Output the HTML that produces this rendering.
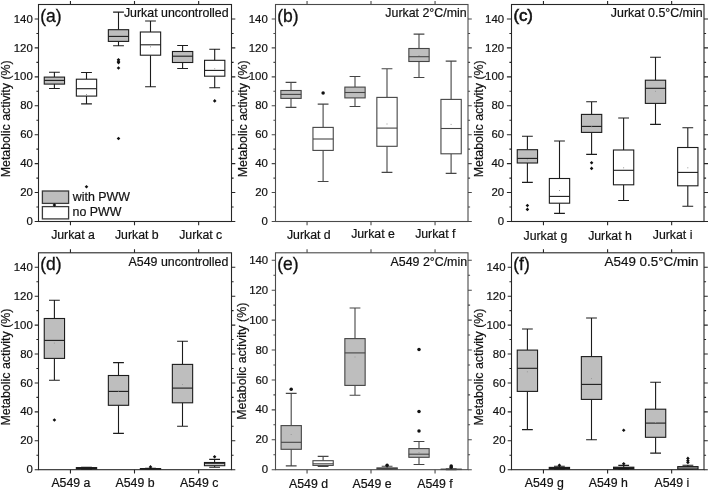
<!DOCTYPE html>
<html><head><meta charset="utf-8"><title>Metabolic activity box plots</title>
<style>html,body{margin:0;padding:0;background:#fff;}body{width:708px;height:491px;overflow:hidden;}svg{display:block;font-family:"Liberation Sans",sans-serif;will-change:transform;}.t{font-size:12.4px;fill:#111;stroke:#111;stroke-width:0.2px;}.x{font-size:12.3px;}.k{font-size:11.4px;fill:#111;stroke:#111;stroke-width:0.2px;}.pl{font-size:17.5px;fill:#111;stroke:#111;stroke-width:0.3px;}</style></head><body>
<svg width="708" height="491" viewBox="0 0 708 491">
<rect width="708" height="491" fill="#fff"/>
<g stroke="#3a3a3a" stroke-width="1.3">
<rect x="42.4" y="191" width="26.2" height="12.4" fill="#bebebe"/>
<rect x="42.4" y="206.6" width="26.2" height="12.3" fill="#fff"/>
</g>
<g stroke-width="1.1" fill="none">
<g stroke="#1c1c1c">
<path d="M54.4 72.3V77.1M54.4 84.1V88.5M49 72.3H59.8M49 88.5H59.8"/>
<rect x="44.25" y="77.1" width="20.3" height="7" fill="#bebebe"/>
<path d="M44.25 80.4H64.55"/></g>
<g stroke="#1c1c1c">
<path d="M86.5 72.5V79.2M86.5 96.1V103.9M81.1 72.5H91.9M81.1 103.9H91.9"/>
<rect x="76.35" y="79.2" width="20.3" height="16.9" fill="#ffffff"/>
<path d="M76.35 88.7H96.65"/></g>
<g stroke="#1c1c1c">
<path d="M118.5 12.1V29.7M118.5 41.4V45.7M113.1 12.1H123.9M113.1 45.7H123.9"/>
<rect x="108.35" y="29.7" width="20.3" height="11.7" fill="#bebebe"/>
<path d="M108.35 36.4H128.65"/></g>
<g stroke="#1c1c1c">
<path d="M150.5 21V32M150.5 55.2V86.7M145.1 21H155.9M145.1 86.7H155.9"/>
<rect x="140.35" y="32" width="20.3" height="23.2" fill="#ffffff"/>
<path d="M140.35 44.8H160.65"/></g>
<g stroke="#1c1c1c">
<path d="M182.6 45.5V51.5M182.6 62.5V68.5M177.2 45.5H188M177.2 68.5H188"/>
<rect x="172.45" y="51.5" width="20.3" height="11" fill="#bebebe"/>
<path d="M172.45 56.2H192.75"/></g>
<g stroke="#1c1c1c">
<path d="M214.7 49.2V60.3M214.7 76.2V87.8M209.3 49.2H220.1M209.3 87.8H220.1"/>
<rect x="204.55" y="60.3" width="20.3" height="15.9" fill="#ffffff"/>
<path d="M204.55 70.4H224.85"/></g>
<g stroke="#454545">
<path d="M291 82.4V90.5M291 98.4V107.4M285.6 82.4H296.4M285.6 107.4H296.4"/>
<rect x="280.85" y="90.5" width="20.3" height="7.9" fill="#bebebe"/>
<path d="M280.85 94.4H301.15"/></g>
<g stroke="#454545">
<path d="M323.1 104.1V127.4M323.1 150.4V181.5M317.7 104.1H328.5M317.7 181.5H328.5"/>
<rect x="312.95" y="127.4" width="20.3" height="23" fill="#ffffff"/>
<path d="M312.95 139H333.25"/></g>
<g stroke="#454545">
<path d="M355 76.5V87.1M355 97.9V106.5M349.6 76.5H360.4M349.6 106.5H360.4"/>
<rect x="344.85" y="87.1" width="20.3" height="10.8" fill="#bebebe"/>
<path d="M344.85 92.5H365.15"/></g>
<g stroke="#454545">
<path d="M387 68.8V97.4M387 146.3V172.4M381.6 68.8H392.4M381.6 172.4H392.4"/>
<rect x="376.85" y="97.4" width="20.3" height="48.9" fill="#ffffff"/>
<path d="M376.85 128.1H397.15"/></g>
<g stroke="#454545">
<path d="M419 34.1V48.5M419 61.5V77.5M413.6 34.1H424.4M413.6 77.5H424.4"/>
<rect x="408.85" y="48.5" width="20.3" height="13" fill="#bebebe"/>
<path d="M408.85 56.7H429.15"/></g>
<g stroke="#454545">
<path d="M451.1 61.1V99.4M451.1 153.8V173.4M445.7 61.1H456.5M445.7 173.4H456.5"/>
<rect x="440.95" y="99.4" width="20.3" height="54.4" fill="#ffffff"/>
<path d="M440.95 128.5H461.25"/></g>
<g stroke="#1c1c1c">
<path d="M527.4 136.3V149.7M527.4 163V182.4M522 136.3H532.8M522 182.4H532.8"/>
<rect x="517.25" y="149.7" width="20.3" height="13.3" fill="#bebebe"/>
<path d="M517.25 158.4H537.55"/></g>
<g stroke="#1c1c1c">
<path d="M559.5 141V178.5M559.5 203.2V213.4M554.1 141H564.9M554.1 213.4H564.9"/>
<rect x="549.35" y="178.5" width="20.3" height="24.7" fill="#ffffff"/>
<path d="M549.35 196.4H569.65"/></g>
<g stroke="#1c1c1c">
<path d="M591.6 101.8V114.4M591.6 132.4V154.4M586.2 101.8H597M586.2 154.4H597"/>
<rect x="581.45" y="114.4" width="20.3" height="18" fill="#bebebe"/>
<path d="M581.45 126.4H601.75"/></g>
<g stroke="#1c1c1c">
<path d="M623.6 118V150M623.6 184.8V200.5M618.2 118H629M618.2 200.5H629"/>
<rect x="613.45" y="150" width="20.3" height="34.8" fill="#ffffff"/>
<path d="M613.45 170.3H633.75"/></g>
<g stroke="#1c1c1c">
<path d="M655.5 57.2V80.2M655.5 103.4V124.4M650.1 57.2H660.9M650.1 124.4H660.9"/>
<rect x="645.35" y="80.2" width="20.3" height="23.2" fill="#bebebe"/>
<path d="M645.35 88.3H665.65"/></g>
<g stroke="#1c1c1c">
<path d="M687.8 127.7V147.5M687.8 185.8V206.2M682.4 127.7H693.2M682.4 206.2H693.2"/>
<rect x="677.65" y="147.5" width="20.3" height="38.3" fill="#ffffff"/>
<path d="M677.65 172.4H697.95"/></g>
<g stroke="#1c1c1c">
<path d="M54.4 300.3V318.5M54.4 358.4V380.2M49 300.3H59.8M49 380.2H59.8"/>
<rect x="44.25" y="318.5" width="20.3" height="39.9" fill="#bebebe"/>
<path d="M44.25 340.4H64.55"/></g>
<g stroke="#1c1c1c">
<path d="M86.5 467.2V467.6M86.5 469V469.4M81.1 467.2H91.9M81.1 469.4H91.9"/>
<rect x="76.35" y="467.6" width="20.3" height="1.4" fill="#1c1c1c"/>
<path d="M76.35 468.3H96.65"/></g>
<g stroke="#1c1c1c">
<path d="M118.5 362.6V375.5M118.5 405.3V433.4M113.1 362.6H123.9M113.1 433.4H123.9"/>
<rect x="108.35" y="375.5" width="20.3" height="29.8" fill="#bebebe"/>
<path d="M108.35 391.4H128.65"/></g>
<g stroke="#1c1c1c">
<path d="M150.5 468.3V468.6M150.5 469.3V469.5M145.1 468.3H155.9M145.1 469.5H155.9"/>
<rect x="140.35" y="468.6" width="20.3" height="0.7" fill="#1c1c1c"/>
<path d="M140.35 469H160.65"/></g>
<g stroke="#1c1c1c">
<path d="M182.5 341.3V364.4M182.5 402.8V426.2M177.1 341.3H187.9M177.1 426.2H187.9"/>
<rect x="172.35" y="364.4" width="20.3" height="38.4" fill="#bebebe"/>
<path d="M172.35 388.1H192.65"/></g>
<g stroke="#1c1c1c">
<path d="M214.6 459.4V462.5M214.6 465.7V467.3M209.2 459.4H220M209.2 467.3H220"/>
<rect x="204.45" y="462.5" width="20.3" height="3.2" fill="#ffffff"/>
<path d="M204.45 463.7H224.75"/></g>
<g stroke="#454545">
<path d="M291.2 393.4V425.6M291.2 449.3V465.9M285.8 393.4H296.6M285.8 465.9H296.6"/>
<rect x="281.05" y="425.6" width="20.3" height="23.7" fill="#bebebe"/>
<path d="M281.05 442.3H301.35"/></g>
<g stroke="#454545">
<path d="M323.1 456.4V460.7M323.1 465.4V466.5M317.7 456.4H328.5M317.7 466.5H328.5"/>
<rect x="312.95" y="460.7" width="20.3" height="4.7" fill="#ffffff"/>
<path d="M312.95 463.8H333.25"/></g>
<g stroke="#454545">
<path d="M355 308V338.6M355 385.4V395.3M349.6 308H360.4M349.6 395.3H360.4"/>
<rect x="344.85" y="338.6" width="20.3" height="46.8" fill="#bebebe"/>
<path d="M344.85 352.9H365.15"/></g>
<g stroke="#454545">
<path d="M387.1 466.3V467.9M387.1 469.2V469.5M381.7 466.3H392.5M381.7 469.5H392.5"/>
<rect x="376.95" y="467.9" width="20.3" height="1.3" fill="#454545"/>
<path d="M376.95 468.6H397.25"/></g>
<g stroke="#454545">
<path d="M419 441.5V448.6M419 457.3V464.5M413.6 441.5H424.4M413.6 464.5H424.4"/>
<rect x="408.85" y="448.6" width="20.3" height="8.7" fill="#bebebe"/>
<path d="M408.85 454.2H429.15"/></g>
<g stroke="#454545">
<path d="M451.2 468.7V469.2M451.2 469.5V469.6M445.8 468.7H456.6M445.8 469.6H456.6"/>
<rect x="441.05" y="469.2" width="20.3" height="0.3" fill="#454545"/>
<path d="M441.05 469.4H461.35"/></g>
<g stroke="#1c1c1c">
<path d="M527.4 329V350.1M527.4 391.4V429.6M522 329H532.8M522 429.6H532.8"/>
<rect x="517.25" y="350.1" width="20.3" height="41.3" fill="#bebebe"/>
<path d="M517.25 368.3H537.55"/></g>
<g stroke="#1c1c1c">
<path d="M559.4 466.2V467.4M559.4 469.1V469.5M554 466.2H564.8M554 469.5H564.8"/>
<rect x="549.25" y="467.4" width="20.3" height="1.7" fill="#1c1c1c"/>
<path d="M549.25 468.2H569.55"/></g>
<g stroke="#1c1c1c">
<path d="M591.5 318V356.6M591.5 399.4V439.7M586.1 318H596.9M586.1 439.7H596.9"/>
<rect x="581.35" y="356.6" width="20.3" height="42.8" fill="#bebebe"/>
<path d="M581.35 384.4H601.65"/></g>
<g stroke="#1c1c1c">
<path d="M623.7 465.4V467.2M623.7 469.1V469.5M618.3 465.4H629.1M618.3 469.5H629.1"/>
<rect x="613.55" y="467.2" width="20.3" height="1.9" fill="#1c1c1c"/>
<path d="M613.55 468.2H633.85"/></g>
<g stroke="#1c1c1c">
<path d="M655.6 382.3V409.2M655.6 437.3V453.1M650.2 382.3H661M650.2 453.1H661"/>
<rect x="645.45" y="409.2" width="20.3" height="28.1" fill="#bebebe"/>
<path d="M645.45 423.1H665.75"/></g>
<g stroke="#1c1c1c">
<path d="M687.9 465.2V466.6M687.9 469.2V469.5M682.5 465.2H693.3M682.5 469.5H693.3"/>
<rect x="677.75" y="466.6" width="20.3" height="2.6" fill="#ffffff"/>
<path d="M677.75 468H698.05"/></g>
</g>
<g fill="#9a9a9a">
<rect x="86" y="94" width="1" height="1"/>
<rect x="150" y="46.3" width="1" height="1"/>
<rect x="214.2" y="68.3" width="1" height="1"/>
<rect x="386.5" y="123.5" width="1" height="1"/>
<rect x="418.5" y="55" width="1" height="1"/>
<rect x="450.6" y="123.9" width="1" height="1"/>
<rect x="526.9" y="159.3" width="1" height="1"/>
<rect x="559" y="190" width="1" height="1"/>
<rect x="591.1" y="126.4" width="1" height="1"/>
<rect x="623.1" y="167.3" width="1" height="1"/>
<rect x="655" y="90.8" width="1" height="1"/>
<rect x="687.3" y="167.3" width="1" height="1"/>
<rect x="53.9" y="342.6" width="1" height="1"/>
<rect x="118" y="390.5" width="1" height="1"/>
<rect x="182" y="384" width="1" height="1"/>
<rect x="290.7" y="434" width="1" height="1"/>
<rect x="354.5" y="356.5" width="1" height="1"/>
<rect x="418.5" y="452" width="1" height="1"/>
<rect x="526.9" y="371.3" width="1" height="1"/>
<rect x="591" y="378.1" width="1" height="1"/>
<rect x="655.1" y="422" width="1" height="1"/>
</g>
<g fill="#111">
<path d="M54.4 203.3L56.2 205.1L54.4 206.9L52.6 205.1Z"/>
<path d="M86.5 184.9L88.3 186.7L86.5 188.5L84.7 186.7Z"/>
<path d="M118.5 57.9L120.3 59.7L118.5 61.5L116.7 59.7Z"/>
<path d="M118.5 59.4L120.3 61.2L118.5 63L116.7 61.2Z"/>
<path d="M118.5 60.8L120.3 62.6L118.5 64.4L116.7 62.6Z"/>
<path d="M118.5 66.2L120.3 68L118.5 69.8L116.7 68Z"/>
<path d="M118.5 136.7L120.3 138.5L118.5 140.3L116.7 138.5Z"/>
<path d="M214.7 99.1L216.5 100.9L214.7 102.7L212.9 100.9Z"/>
<circle cx="323.1" cy="93.1" r="1.75"/>
<path d="M527.4 203.7L529.2 205.5L527.4 207.3L525.6 205.5Z"/>
<path d="M527.4 207.6L529.2 209.4L527.4 211.2L525.6 209.4Z"/>
<path d="M591.6 161L593.4 162.8L591.6 164.6L589.8 162.8Z"/>
<path d="M591.6 166.6L593.4 168.4L591.6 170.2L589.8 168.4Z"/>
<path d="M54.4 418.2L56.2 420L54.4 421.8L52.6 420Z"/>
<path d="M150.5 465.1L152.3 466.9L150.5 468.7L148.7 466.9Z"/>
<path d="M214.6 455L216.4 456.8L214.6 458.6L212.8 456.8Z"/>
<circle cx="291.2" cy="389.3" r="1.75"/>
<circle cx="387.1" cy="465.3" r="1.75"/>
<circle cx="419" cy="349.6" r="1.75"/>
<circle cx="419" cy="411.4" r="1.75"/>
<circle cx="419" cy="431" r="1.75"/>
<circle cx="451.2" cy="465.9" r="1.75"/>
<circle cx="451.2" cy="467.3" r="1.75"/>
<path d="M559.4 463.4L561.2 465.2L559.4 467L557.6 465.2Z"/>
<path d="M623.7 462L625.5 463.8L623.7 465.6L621.9 463.8Z"/>
<path d="M623.7 428.4L625.5 430.2L623.7 432L621.9 430.2Z"/>
<path d="M687.9 456.6L689.7 458.4L687.9 460.2L686.1 458.4Z"/>
<path d="M687.9 458.9L689.7 460.7L687.9 462.5L686.1 460.7Z"/>
<path d="M687.9 460.6L689.7 462.4L687.9 464.2L686.1 462.4Z"/>
</g>
<g stroke-width="1.1" fill="none">
<g stroke="#262626">
<rect x="38.5" y="4.5" width="193" height="217"/>
<path d="M34.7 221.5H38.5M231.5 221.5H235.3M36.4 207.03H38.5M231.5 207.03H233.6M34.7 192.57H38.5M231.5 192.57H235.3M36.4 178.1H38.5M231.5 178.1H233.6M34.7 163.63H38.5M231.5 163.63H235.3M36.4 149.17H38.5M231.5 149.17H233.6M34.7 134.7H38.5M231.5 134.7H235.3M36.4 120.23H38.5M231.5 120.23H233.6M34.7 105.77H38.5M231.5 105.77H235.3M36.4 91.3H38.5M231.5 91.3H233.6M34.7 76.83H38.5M231.5 76.83H235.3M36.4 62.37H38.5M231.5 62.37H233.6M34.7 47.9H38.5M231.5 47.9H235.3M36.4 33.43H38.5M231.5 33.43H233.6M34.7 18.97H38.5M231.5 18.97H235.3M70.45 0.9V4.5M70.45 221.5V225.3M134.5 0.9V4.5M134.5 221.5V225.3M198.65 0.9V4.5M198.65 221.5V225.3"/></g>
<g stroke="#4a4a4a">
<rect x="275.5" y="4.5" width="192.5" height="217"/>
<path d="M271.7 221.5H275.5M468 221.5H471.8M273.4 207.03H275.5M468 207.03H470.1M271.7 192.57H275.5M468 192.57H471.8M273.4 178.1H275.5M468 178.1H470.1M271.7 163.63H275.5M468 163.63H471.8M273.4 149.17H275.5M468 149.17H470.1M271.7 134.7H275.5M468 134.7H471.8M273.4 120.23H275.5M468 120.23H470.1M271.7 105.77H275.5M468 105.77H471.8M273.4 91.3H275.5M468 91.3H470.1M271.7 76.83H275.5M468 76.83H471.8M273.4 62.37H275.5M468 62.37H470.1M271.7 47.9H275.5M468 47.9H471.8M273.4 33.43H275.5M468 33.43H470.1M271.7 18.97H275.5M468 18.97H471.8M307.05 0.9V4.5M307.05 221.5V225.3M371 0.9V4.5M371 221.5V225.3M435.05 0.9V4.5M435.05 221.5V225.3"/></g>
<g stroke="#262626">
<rect x="511.5" y="4.5" width="192.5" height="217"/>
<path d="M506.9 221.5H511.5M704 221.5H708.6M509.4 207.03H511.5M704 207.03H706.1M506.9 192.57H511.5M704 192.57H708.6M509.4 178.1H511.5M704 178.1H706.1M506.9 163.63H511.5M704 163.63H708.6M509.4 149.17H511.5M704 149.17H706.1M506.9 134.7H511.5M704 134.7H708.6M509.4 120.23H511.5M704 120.23H706.1M506.9 105.77H511.5M704 105.77H708.6M509.4 91.3H511.5M704 91.3H706.1M506.9 76.83H511.5M704 76.83H708.6M509.4 62.37H511.5M704 62.37H706.1M506.9 47.9H511.5M704 47.9H708.6M509.4 33.43H511.5M704 33.43H706.1M506.9 18.97H511.5M704 18.97H708.6M543.45 0.9V4.5M543.45 221.5V225.3M607.6 0.9V4.5M607.6 221.5V225.3M671.65 0.9V4.5M671.65 221.5V225.3"/></g>
<g stroke="#262626">
<rect x="38.5" y="252.8" width="193" height="216.9"/>
<path d="M34.7 469.7H38.5M231.5 469.7H235.3M36.4 455.24H38.5M231.5 455.24H233.6M34.7 440.78H38.5M231.5 440.78H235.3M36.4 426.32H38.5M231.5 426.32H233.6M34.7 411.86H38.5M231.5 411.86H235.3M36.4 397.4H38.5M231.5 397.4H233.6M34.7 382.94H38.5M231.5 382.94H235.3M36.4 368.48H38.5M231.5 368.48H233.6M34.7 354.02H38.5M231.5 354.02H235.3M36.4 339.56H38.5M231.5 339.56H233.6M34.7 325.1H38.5M231.5 325.1H235.3M36.4 310.64H38.5M231.5 310.64H233.6M34.7 296.18H38.5M231.5 296.18H235.3M36.4 281.72H38.5M231.5 281.72H233.6M34.7 267.26H38.5M231.5 267.26H235.3M70.45 249.2V252.8M70.45 469.7V473.5M134.5 249.2V252.8M134.5 469.7V473.5M198.65 249.2V252.8M198.65 469.7V473.5"/></g>
<g stroke="#4a4a4a">
<rect x="275.5" y="252.8" width="192.5" height="216.9"/>
<path d="M271.7 469.7H275.5M468 469.7H471.8M273.4 454.74H275.5M468 454.74H470.1M271.7 439.78H275.5M468 439.78H471.8M273.4 424.82H275.5M468 424.82H470.1M271.7 409.87H275.5M468 409.87H471.8M273.4 394.91H275.5M468 394.91H470.1M271.7 379.95H275.5M468 379.95H471.8M273.4 364.99H275.5M468 364.99H470.1M271.7 350.03H275.5M468 350.03H471.8M273.4 335.07H275.5M468 335.07H470.1M271.7 320.11H275.5M468 320.11H471.8M273.4 305.16H275.5M468 305.16H470.1M271.7 290.2H275.5M468 290.2H471.8M273.4 275.24H275.5M468 275.24H470.1M271.7 260.28H275.5M468 260.28H471.8M307.05 249.2V252.8M307.05 469.7V473.5M371 249.2V252.8M371 469.7V473.5M435.05 249.2V252.8M435.05 469.7V473.5"/></g>
<g stroke="#262626">
<rect x="511.5" y="252.8" width="192.5" height="216.9"/>
<path d="M507.7 469.7H511.5M704 469.7H707.8M509.4 455.24H511.5M704 455.24H706.1M507.7 440.78H511.5M704 440.78H707.8M509.4 426.32H511.5M704 426.32H706.1M507.7 411.86H511.5M704 411.86H707.8M509.4 397.4H511.5M704 397.4H706.1M507.7 382.94H511.5M704 382.94H707.8M509.4 368.48H511.5M704 368.48H706.1M507.7 354.02H511.5M704 354.02H707.8M509.4 339.56H511.5M704 339.56H706.1M507.7 325.1H511.5M704 325.1H707.8M509.4 310.64H511.5M704 310.64H706.1M507.7 296.18H511.5M704 296.18H707.8M509.4 281.72H511.5M704 281.72H706.1M507.7 267.26H511.5M704 267.26H707.8M543.45 249.2V252.8M543.45 469.7V473.5M607.6 249.2V252.8M607.6 469.7V473.5M671.65 249.2V252.8M671.65 469.7V473.5"/></g>
</g>
<g class="t">
<text class="k" x="32.8" y="225.1" text-anchor="end">0</text>
<text class="k" x="32.8" y="196.17" text-anchor="end">20</text>
<text class="k" x="32.8" y="167.23" text-anchor="end">40</text>
<text class="k" x="32.8" y="138.3" text-anchor="end">60</text>
<text class="k" x="32.8" y="109.37" text-anchor="end">80</text>
<text class="k" x="32.8" y="80.43" text-anchor="end">100</text>
<text class="k" x="32.8" y="51.5" text-anchor="end">120</text>
<text class="k" x="32.8" y="22.57" text-anchor="end">140</text>
<text class="x" x="73" y="238.8" text-anchor="middle">Jurkat a</text>
<text class="x" x="136.8" y="238.8" text-anchor="middle">Jurkat b</text>
<text class="x" x="200.7" y="238.8" text-anchor="middle">Jurkat c</text>
<text x="228.6" y="17.4" text-anchor="end">Jurkat uncontrolled</text>
<text transform="translate(10.1 118.8) rotate(-90)" text-anchor="middle">Metabolic activity (%)</text>
</g>
<text class="pl" x="40.3" y="21.7">(a)</text>
<g class="t">
<text class="k" x="267.8" y="225.1" text-anchor="end">0</text>
<text class="k" x="267.8" y="196.17" text-anchor="end">20</text>
<text class="k" x="267.8" y="167.23" text-anchor="end">40</text>
<text class="k" x="267.8" y="138.3" text-anchor="end">60</text>
<text class="k" x="267.8" y="109.37" text-anchor="end">80</text>
<text class="k" x="267.8" y="80.43" text-anchor="end">100</text>
<text class="k" x="267.8" y="51.5" text-anchor="end">120</text>
<text class="k" x="267.8" y="22.57" text-anchor="end">140</text>
<text class="x" x="308.8" y="238.5" text-anchor="middle">Jurkat d</text>
<text class="x" x="373" y="237.5" text-anchor="middle">Jurkat e</text>
<text class="x" x="435.3" y="237.5" text-anchor="middle">Jurkat f</text>
<text x="466.7" y="17.4" text-anchor="end">Jurkat 2°C/min</text>
<text transform="translate(246.6 118.8) rotate(-90)" text-anchor="middle">Metabolic activity (%)</text>
</g>
<text class="pl" x="277.3" y="21.7">(b)</text>
<g class="t">
<text class="k" x="504.1" y="225.1" text-anchor="end">0</text>
<text class="k" x="504.1" y="196.17" text-anchor="end">20</text>
<text class="k" x="504.1" y="167.23" text-anchor="end">40</text>
<text class="k" x="504.1" y="138.3" text-anchor="end">60</text>
<text class="k" x="504.1" y="109.37" text-anchor="end">80</text>
<text class="k" x="504.1" y="80.43" text-anchor="end">100</text>
<text class="k" x="504.1" y="51.5" text-anchor="end">120</text>
<text class="k" x="504.1" y="22.57" text-anchor="end">140</text>
<text class="x" x="545.4" y="240.1" text-anchor="middle">Jurkat g</text>
<text class="x" x="610" y="239.5" text-anchor="middle">Jurkat h</text>
<text class="x" x="672.6" y="238.7" text-anchor="middle">Jurkat i</text>
<text x="702.6" y="17.4" text-anchor="end">Jurkat 0.5°C/min</text>
<text transform="translate(483.1 118.8) rotate(-90)" text-anchor="middle">Metabolic activity (%)</text>
</g>
<text class="pl" style="font-size:16.8px;stroke-width:0.6px" x="513.4" y="21.1">(c)</text>
<g class="t">
<text class="k" x="32.8" y="473.3" text-anchor="end">0</text>
<text class="k" x="32.8" y="444.38" text-anchor="end">20</text>
<text class="k" x="32.8" y="415.46" text-anchor="end">40</text>
<text class="k" x="32.8" y="386.54" text-anchor="end">60</text>
<text class="k" x="32.8" y="357.62" text-anchor="end">80</text>
<text class="k" x="32.8" y="328.7" text-anchor="end">100</text>
<text class="k" x="32.8" y="299.78" text-anchor="end">120</text>
<text class="k" x="32.8" y="270.86" text-anchor="end">140</text>
<text class="x" x="70.9" y="487.2" text-anchor="middle">A549 a</text>
<text class="x" x="135" y="487.2" text-anchor="middle">A549 b</text>
<text class="x" x="199.2" y="487.2" text-anchor="middle">A549 c</text>
<text x="228.4" y="265.7" text-anchor="end">A549 uncontrolled</text>
<text transform="translate(10.1 367.05) rotate(-90)" text-anchor="middle">Metabolic activity (%)</text>
</g>
<text class="pl" x="40.3" y="270">(d)</text>
<g class="t">
<text class="k" x="268.2" y="473.3" text-anchor="end">0</text>
<text class="k" x="268.2" y="443.38" text-anchor="end">20</text>
<text class="k" x="268.2" y="413.47" text-anchor="end">40</text>
<text class="k" x="268.2" y="383.55" text-anchor="end">60</text>
<text class="k" x="268.2" y="353.63" text-anchor="end">80</text>
<text class="k" x="268.2" y="323.71" text-anchor="end">100</text>
<text class="k" x="268.2" y="293.8" text-anchor="end">120</text>
<text class="k" x="268.2" y="263.88" text-anchor="end">140</text>
<text class="x" x="308.5" y="487.6" text-anchor="middle">A549 d</text>
<text class="x" x="372" y="487.6" text-anchor="middle">A549 e</text>
<text class="x" x="435" y="487.6" text-anchor="middle">A549 f</text>
<text x="467.1" y="265.7" text-anchor="end">A549 2°C/min</text>
<text transform="translate(246.2 361.25) rotate(-90)" text-anchor="middle">Metabolic activity (%)</text>
</g>
<text class="pl" x="277.3" y="270">(e)</text>
<g class="t">
<text class="k" x="505.5" y="473.3" text-anchor="end">0</text>
<text class="k" x="505.5" y="444.38" text-anchor="end">20</text>
<text class="k" x="505.5" y="415.46" text-anchor="end">40</text>
<text class="k" x="505.5" y="386.54" text-anchor="end">60</text>
<text class="k" x="505.5" y="357.62" text-anchor="end">80</text>
<text class="k" x="505.5" y="328.7" text-anchor="end">100</text>
<text class="k" x="505.5" y="299.78" text-anchor="end">120</text>
<text class="k" x="505.5" y="270.86" text-anchor="end">140</text>
<text class="x" x="544.3" y="486.9" text-anchor="middle">A549 g</text>
<text class="x" x="608.3" y="486.9" text-anchor="middle">A549 h</text>
<text class="x" x="671.9" y="486.9" text-anchor="middle">A549 i</text>
<text x="698.5" y="265.7" text-anchor="end" style="font-size:13.4px">A549 0.5°C/min</text>
<text transform="translate(483.1 367.05) rotate(-90)" text-anchor="middle">Metabolic activity (%)</text>
</g>
<text class="pl" x="513.3" y="270">(f)</text>
<g class="t"><text x="72.8" y="200.9">with PWW</text><text x="72.6" y="216.3">no PWW</text></g>
</svg></body></html>
